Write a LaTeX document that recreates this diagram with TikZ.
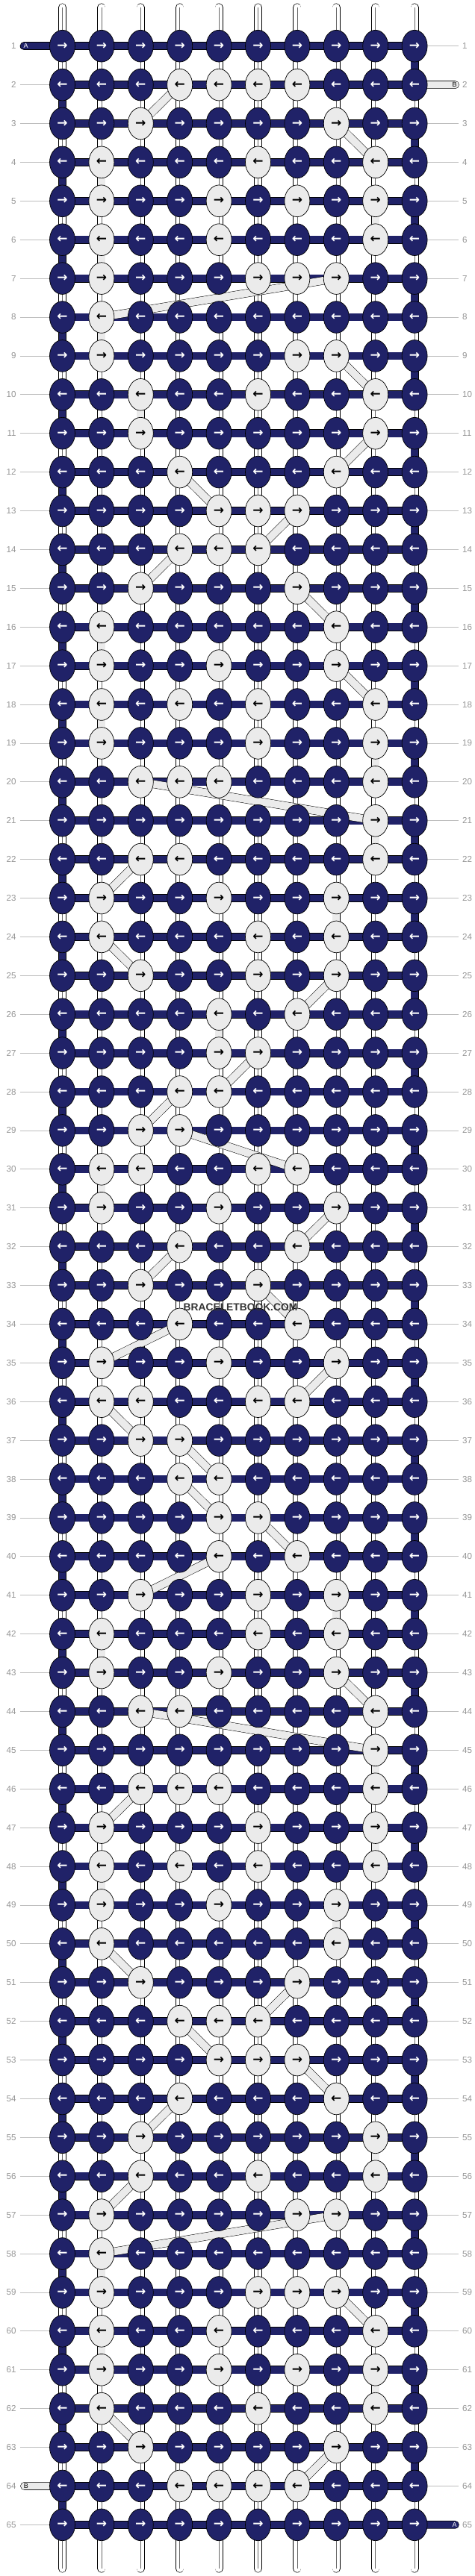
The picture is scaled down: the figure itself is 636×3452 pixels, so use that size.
\documentclass[tikz,border=0pt]{standalone}
\usepackage{fontspec}
\setmainfont{Liberation Sans}
\newfontfamily\arrowfont{DejaVu Sans}
\usetikzlibrary{shapes.geometric}

\definecolor{navy}{RGB}{32,34,104}
\definecolor{light}{RGB}{235,235,235}
\definecolor{labgray}{RGB}{150,150,150}
\definecolor{linegray}{RGB}{190,190,190}

\pgfdeclarelayer{paper}
\pgfdeclarelayer{threads}
\pgfdeclarelayer{bands}
\pgfsetlayers{paper,threads,bands,main}

\tikzset{
  knot/.style={ellipse, draw=black, line width=.7pt, minimum width=34pt, minimum height=42.7pt, inner sep=0pt, font=\arrowfont\bfseries\fontsize{17}{17}\selectfont},
  navyknot/.style={fill=navy, text=white},
  whiteknot/.style={fill=light, text=black},
  hbar/.style={draw=black, line width=.6pt, double=navy, double distance=9.6pt},
  pair/.style={draw=black, line width=.6pt, double=white, double distance=9.8pt},
  pairmid/.style={draw=black!60, line width=.5pt},
  bband/.style={draw=black, line width=.5pt, double=light, double distance=10pt},
  bstub/.style={draw=black, line width=.6pt, double=light, double distance=9.6pt, line cap=round},
  astub/.style={hbar, line cap=round},
  rowlab/.style={text=labgray, inner sep=0pt, font=\fontsize{11.6}{12}\selectfont},
  rowline/.style={draw=linegray, line width=.8pt},
  endlab/.style={inner sep=0pt, font=\fontsize{9}{9}\selectfont},
  watermark/.style={text=black!80, inner sep=1pt, font=\bfseries\fontsize{13.8}{14}\selectfont}
}

\begin{document}
\begin{tikzpicture}[x=1pt,y=-1pt]
\begin{pgfonlayer}{paper}
\fill[white] (0,0) rectangle (636,3452);
\end{pgfonlayer}
\useasboundingbox (0,0) rectangle (636,3452);

% knots where the white thread shows
\foreach \rw/\whites in {2/{4,5,6,7}, 3/{3,8}, 4/{2,6,9}, 5/{2,5,7,9}, 6/{2,5,9}, 7/{2,6,7,8}, 8/{2}, 9/{2,7,8},
  10/{3,6,9}, 11/{3,9}, 12/{4,8}, 13/{5,6,7}, 14/{4,5,6}, 15/{3,7}, 16/{2,8}, 17/{2,5,8}, 18/{2,4,6,9},
  19/{2,6,9}, 20/{3,4,5,9}, 21/{9}, 22/{3,4,9}, 23/{2,5,8}, 24/{2,6,8}, 25/{3,6,8}, 26/{5,7}, 27/{5,6},
  28/{4,5}, 29/{3,4}, 30/{2,3,6,7}, 31/{2,5,8}, 32/{4,7}, 33/{3,6}, 34/{4,7}, 35/{2,5,8}, 36/{2,3,6,7},
  37/{3,4}, 38/{4,5}, 39/{5,6}, 40/{5,7}, 41/{3,6,8}, 42/{2,6,8}, 43/{2,5,8}, 44/{3,4,9}, 45/{9},
  46/{3,4,5,9}, 47/{2,6,9}, 48/{2,4,6,9}, 49/{2,5,8}, 50/{2,8}, 51/{3,7}, 52/{4,5,6}, 53/{5,6,7},
  54/{4,8}, 55/{3,9}, 56/{3,6,9}, 57/{2,7,8}, 58/{2}, 59/{2,6,7,8}, 60/{2,5,9}, 61/{2,5,7,9},
  62/{2,6,9}, 63/{3,8}, 64/{4,5,6,7}}{
  \foreach \cl in \whites {\expandafter\gdef\csname w\rw-\cl\endcsname{}}
}

% knots and row numbers
\foreach \rw in {1,...,65}{
  \pgfmathsetmacro\ky{61.7+51.9*(\rw-1)}
  \ifodd\rw \def\arr{→}\else\def\arr{←}\fi
  \foreach \cl in {1,...,10}{
    \pgfmathsetmacro\kx{83.5+52.4*(\cl-1)}
    \ifcsname w\rw-\cl\endcsname \tikzset{kfill/.style=whiteknot}\else \tikzset{kfill/.style=navyknot}\fi
    \node[knot,kfill] (k-\rw-\cl) at (\kx,\ky) {\arr};
  }
  \node[rowlab,anchor=east] (ln-\rw) at (21.8,\ky) {\rw};
  \node[rowlab,anchor=west] (rn-\rw) at (619,\ky) {\rw};
}

\begin{pgfonlayer}{threads}
% strings above and below
\foreach \cl in {1,...,10}{
  \pgfmathsetmacro\kx{83.5+52.4*(\cl-1)}
  \coordinate (top-\cl) at (\kx,10);
  \coordinate (bot-\cl) at (\kx,3442);
  \draw[pair,line cap=round] (top-\cl) -- (k-1-\cl.center);
  \draw[pairmid] (top-\cl) -- (k-1-\cl.center);
  \draw[pair,line cap=round] (k-65-\cl.center) -- (bot-\cl);
  \draw[pairmid] (k-65-\cl.center) -- (bot-\cl);
}
% strings between rows, navy where the row thread turns
\foreach \rw in {1,...,64}{
  \pgfmathtruncatemacro\nx{\rw+1}
  \ifodd\rw \def\turn{10}\else\def\turn{1}\fi
  \foreach \cl in {1,...,10}{
    \ifnum\cl=\turn\relax
      \draw[hbar] (k-\rw-\cl.center) -- (k-\nx-\cl.center);
    \else
      \draw[pair] (k-\rw-\cl.center) -- (k-\nx-\cl.center);
      \draw[pairmid] (k-\rw-\cl.center) -- (k-\nx-\cl.center);
    \fi
  }
}
% row threads
\foreach \rw in {1,...,65}
  \draw[hbar] (k-\rw-1.center) -- (k-\rw-10.center);

% loose ends
\coordinate (a-top) at (32.1,61.7);
\coordinate (b-top) at (609.4,113.6);
\coordinate (b-bot) at (32.6,3331.4);
\coordinate (a-bot) at (609.4,3383.3);
\draw[astub] (a-top) -- (k-1-1.center);
\draw[bstub] (k-2-10.center) -- (b-top);
\draw[bstub] (b-bot) -- (k-64-1.center);
\draw[astub] (k-65-10.center) -- (a-bot);

% lines to the row numbers
\foreach \rw in {1,...,65}{
  \ifnum\rw=1\else\ifnum\rw=64\else
    \draw[rowline] ([xshift=5pt]ln-\rw.east) -- (k-\rw-1.center);
  \fi\fi
  \ifnum\rw=2\else\ifnum\rw=65\else
    \draw[rowline] (k-\rw-10.center) -- ([xshift=-5pt]rn-\rw.west);
  \fi\fi
}
\end{pgfonlayer}

% white thread carried from row to row
\begin{pgfonlayer}{bands}
\foreach \ra/\ca/\rb/\cb in {2/4/3/3, 3/8/4/9, 4/2/5/2, 5/9/6/9, 6/2/7/2, 7/8/8/2, 8/2/9/2, 9/8/10/9,
  10/3/11/3, 11/9/12/8, 12/4/13/5, 13/7/14/6, 14/4/15/3, 15/7/16/8, 16/2/17/2, 17/8/18/9,
  18/2/19/2, 19/9/20/9, 20/3/21/9, 21/9/22/9, 22/3/23/2, 23/8/24/8, 24/2/25/3, 25/8/26/7,
  26/5/27/5, 27/6/28/5, 28/4/29/3, 29/4/30/7, 30/2/31/2, 31/8/32/7, 32/4/33/3, 33/6/34/7,
  34/4/35/2, 35/8/36/7, 36/2/37/3, 37/4/38/5, 38/4/39/5, 39/6/40/7, 40/5/41/3, 41/8/42/8,
  42/2/43/2, 43/8/44/9, 44/3/45/9, 45/9/46/9, 46/3/47/2, 47/9/48/9, 48/2/49/2, 49/8/50/8,
  50/2/51/3, 51/7/52/6, 52/4/53/5, 53/7/54/8, 54/4/55/3, 55/9/56/9, 56/3/57/2, 57/8/58/2,
  58/2/59/2, 59/8/60/9, 60/2/61/2, 61/9/62/9, 62/2/63/3, 63/8/64/7}
  \draw[bband] (k-\ra-\ca.center) -- (k-\rb-\cb.center);
\end{pgfonlayer}

\node[endlab,text=white] (a-lab1) at (34.7,61.7) {A};
\node[endlab,text=black] (b-lab1) at (608.6,113.6) {B};
\node[endlab,text=black] (b-lab2) at (35,3331.4) {B};
\node[endlab,text=white] (a-lab2) at (608.6,3383.3) {A};

\node[watermark] (wm) at (322,1751.3) {BRACELETBOOK.COM};
\end{tikzpicture}
\end{document}
